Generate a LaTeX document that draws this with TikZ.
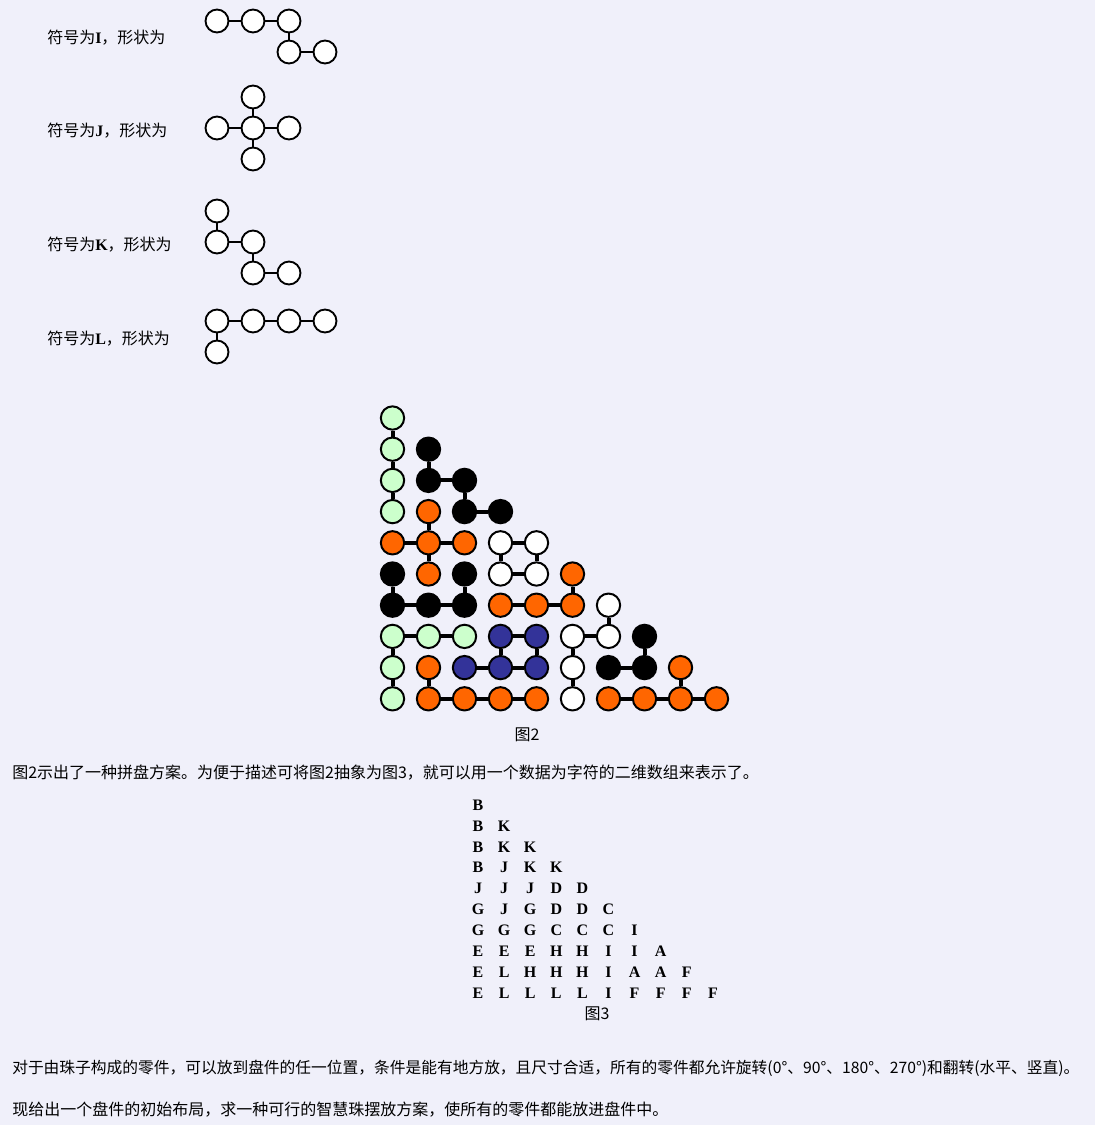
\documentclass[tikz,border=0pt]{standalone}
\usepackage{fontspec}
\setmainfont{Liberation Serif}
\newfontfamily\cjk{Noto Sans CJK SC}
\definecolor{bgc}{RGB}{240,240,250}
\definecolor{bgreen}{RGB}{204,255,204}
\definecolor{borange}{RGB}{255,102,0}
\definecolor{bblue}{RGB}{51,51,153}
\tikzset{
  sbead/.style={circle, draw=black, line width=1.4pt, fill=white, minimum size=17.2pt, inner sep=0pt},
  slink/.style={draw=black, line width=1.8pt},
  bead/.style={circle, draw=black, line width=1.5pt, minimum size=17.5pt, inner sep=0pt},
  blink/.style={draw=black, line width=3pt},
  pcB/.style={fill=bgreen}, pcE/.style={fill=bgreen},
  pcK/.style={fill=black}, pcG/.style={fill=black}, pcA/.style={fill=black},
  pcJ/.style={fill=borange}, pcC/.style={fill=borange}, pcL/.style={fill=borange}, pcF/.style={fill=borange},
  pcD/.style={fill=white}, pcI/.style={fill=white},
  pcH/.style={fill=bblue},
  lbl/.style={anchor=west, inner sep=0pt, font=\fontsize{12pt}{14pt}\selectfont},
  gridtxt/.style={inner sep=0pt, font=\fontsize{12pt}{14pt}\selectfont\bfseries},
  figcap/.style={inner sep=0pt, font=\fontsize{12pt}{14pt}\selectfont\cjk}
}
\begin{document}
\begin{tikzpicture}[x=0.75pt,y=-0.75pt]
\fill[bgc] (0,0) rectangle (1095,1125);
\useasboundingbox (0,0) rectangle (1095,1125);

% ---- labels ----
\node[lbl] (labI) at (47,38) {{\cjk 符号为}\textbf{I}{\cjk ，形状为}};
\node[lbl] (labJ) at (47,131) {{\cjk 符号为}\textbf{J}{\cjk ，形状为}};
\node[lbl] (labK) at (47,245) {{\cjk 符号为}\textbf{K}{\cjk ，形状为}};
\node[lbl] (labL) at (47,339) {{\cjk 符号为}\textbf{L}{\cjk ，形状为}};

% ---- shape I ----
\node[sbead] (i1) at (217,21) {};
\node[sbead] (i2) at (253,21) {};
\node[sbead] (i3) at (289,21) {};
\node[sbead] (i4) at (289,52) {};
\node[sbead] (i5) at (325,52) {};
\draw[slink] (i1) -- (i2); \draw[slink] (i2) -- (i3);
\draw[slink] (i3) -- (i4); \draw[slink] (i4) -- (i5);

% ---- shape J ----
\node[sbead] (j1) at (253,97) {};
\node[sbead] (j2) at (217,128) {};
\node[sbead] (j3) at (253,128) {};
\node[sbead] (j4) at (289,128) {};
\node[sbead] (j5) at (253,159) {};
\draw[slink] (j1) -- (j3); \draw[slink] (j2) -- (j3);
\draw[slink] (j3) -- (j4); \draw[slink] (j3) -- (j5);

% ---- shape K ----
\node[sbead] (k1) at (217,211) {};
\node[sbead] (k2) at (217,242) {};
\node[sbead] (k3) at (253,242) {};
\node[sbead] (k4) at (253,273) {};
\node[sbead] (k5) at (289,273) {};
\draw[slink] (k1) -- (k2); \draw[slink] (k2) -- (k3);
\draw[slink] (k3) -- (k4); \draw[slink] (k4) -- (k5);

% ---- shape L ----
\node[sbead] (l1) at (217,321) {};
\node[sbead] (l2) at (253,321) {};
\node[sbead] (l3) at (289,321) {};
\node[sbead] (l4) at (325,321) {};
\node[sbead] (l5) at (217,352) {};
\draw[slink] (l1) -- (l2); \draw[slink] (l2) -- (l3);
\draw[slink] (l3) -- (l4); \draw[slink] (l1) -- (l5);

% ---- figure 2 ----
\foreach \r/\row in {0/{B},1/{B,K},2/{B,K,K},3/{B,J,K,K},4/{J,J,J,D,D},5/{G,J,G,D,D,C},6/{G,G,G,C,C,C,I},7/{E,E,E,H,H,I,I,A},8/{E,L,H,H,H,I,A,A,F},9/{E,L,L,L,L,I,F,F,F,F}}{
  \foreach \L [count=\c from 0] in \row {
    \node[bead, pc\L] (g-\r-\c) at ({392.5+36*\c},{418+31.2*\r}) {};
    \node[gridtxt] (t-\r-\c) at ({478+26.1*\c},{805+20.9*\r}) {\L};
  }
}
\foreach \a/\b in {0-0/1-0,1-0/2-0,2-0/3-0,
  1-1/2-1,2-1/2-2,2-2/3-2,3-2/3-3,
  3-1/4-1,4-0/4-1,4-1/4-2,4-1/5-1,
  4-3/4-4,4-3/5-3,4-4/5-4,5-3/5-4,
  5-0/6-0,6-0/6-1,6-1/6-2,5-2/6-2,
  5-5/6-5,6-3/6-4,6-4/6-5,
  6-6/7-6,7-5/7-6,7-5/8-5,8-5/9-5,
  7-0/7-1,7-1/7-2,7-0/8-0,8-0/9-0,
  7-3/7-4,7-3/8-3,7-4/8-4,8-2/8-3,8-3/8-4,
  7-7/8-7,8-6/8-7,
  8-1/9-1,9-1/9-2,9-2/9-3,9-3/9-4,
  8-8/9-8,9-6/9-7,9-7/9-8,9-8/9-9}{
  \draw[blink] (g-\a) -- (g-\b);
}

\node[figcap] (cap2) at (527,735) {图2};
\node[figcap] (cap3) at (597,1014) {图3};

\node[lbl, font=\fontsize{12pt}{14pt}\selectfont\cjk] (p1) at (12,773) {图2示出了一种拼盘方案。为便于描述可将图2抽象为图3，就可以用一个数据为字符的二维数组来表示了。};
\node[lbl, font=\fontsize{11.8pt}{14pt}\selectfont\cjk] (p2) at (12,1068) {对于由珠子构成的零件，可以放到盘件的任一位置，条件是能有地方放，且尺寸合适，所有的零件都允许旋转(0°、90°、180°、270°)和翻转(水平、竖直)。};
\node[lbl, font=\fontsize{12pt}{14pt}\selectfont\cjk] (p3) at (12,1110) {现给出一个盘件的初始布局，求一种可行的智慧珠摆放方案，使所有的零件都能放进盘件中。};
\end{tikzpicture}
\end{document}
